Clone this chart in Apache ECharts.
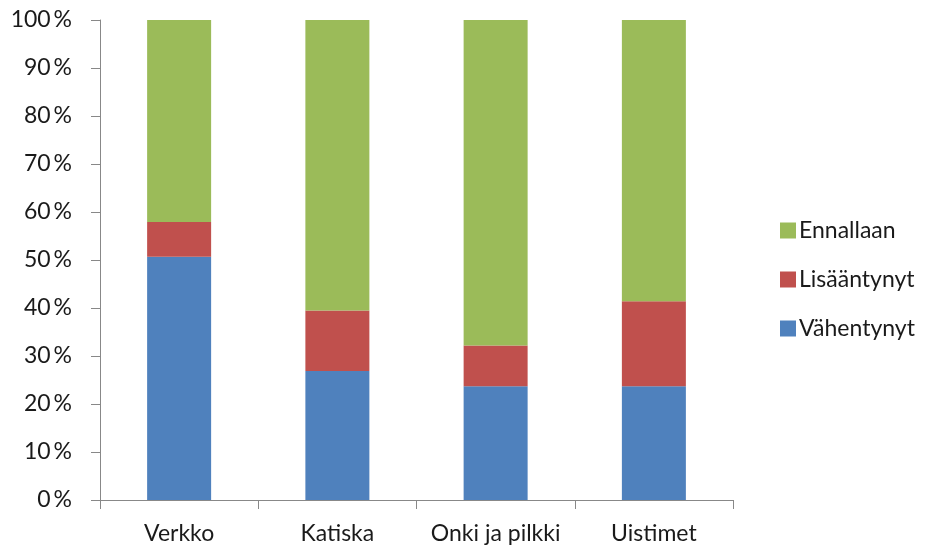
<!DOCTYPE html>
<html>
<head>
<meta charset="utf-8">
<script src="https://cdn.jsdelivr.net/npm/echarts@6/dist/echarts.min.js"></script>
<style>html,body{margin:0;padding:0;background:#fff}#c{width:925px;height:547px}</style>
</head>
<body>
<div id="c"></div>
<script>
const categories = ['Verkko', 'Katiska', 'Onki ja pilkki', 'Uistimet'];
const vahentynyt = [50.7, 26.9, 23.7, 23.7];
const lisaantynyt = [7.2, 12.6, 8.5, 17.7];
const ennallaan = [42.1, 60.5, 67.8, 58.6];
const seriesNames = ['Vähentynyt', 'Lisääntynyt', 'Ennallaan'];
const colors = ['#4F81BD', '#C0504D', '#9BBB59'];

const font = 'Lato, "Open Sans", sans-serif';
const chart = echarts.init(document.getElementById('c'));
const mk = (name, data, color) => ({
  name, type: 'bar', stack: 'total', data, barWidth: 64,
  itemStyle: { color }
});
chart.setOption({
  animation: false,
  textStyle: { fontFamily: font },
  grid: { left: 100, right: 192, top: 20, bottom: 47 },
  legend: {
    orient: 'vertical', left: 775, top: 214, itemGap: 26, itemWidth: 16, itemHeight: 16, icon: 'rect',
    data: ['Ennallaan', 'Lisääntynyt', 'Vähentynyt'],
    textStyle: { fontSize: 23, color: '#1a1a1a', fontFamily: font, padding: [0, 0, 0, -2] }
  },
  xAxis: {
    type: 'category', data: categories,
    axisLine: { lineStyle: { color: '#888', width: 1 } },
    axisTick: { show: true, length: 9, lineStyle: { color: '#888' } },
    axisLabel: { interval: 0, fontSize: 23, color: '#1a1a1a', margin: 22, fontFamily: font }
  },
  yAxis: {
    type: 'value', min: 0, max: 100, interval: 10,
    splitLine: { show: false },
    axisLine: { show: true, lineStyle: { color: '#888', width: 1 } },
    axisTick: { show: true, length: 9, lineStyle: { color: '#888' } },
    axisLabel: { fontSize: 23, color: '#1a1a1a', margin: 28, formatter: v => v + '\u2009%', fontFamily: font }
  },
  series: [
    mk(seriesNames[0], vahentynyt, colors[0]),
    mk(seriesNames[1], lisaantynyt, colors[1]),
    mk(seriesNames[2], ennallaan, colors[2])
  ]
});
</script>
</body>
</html>
